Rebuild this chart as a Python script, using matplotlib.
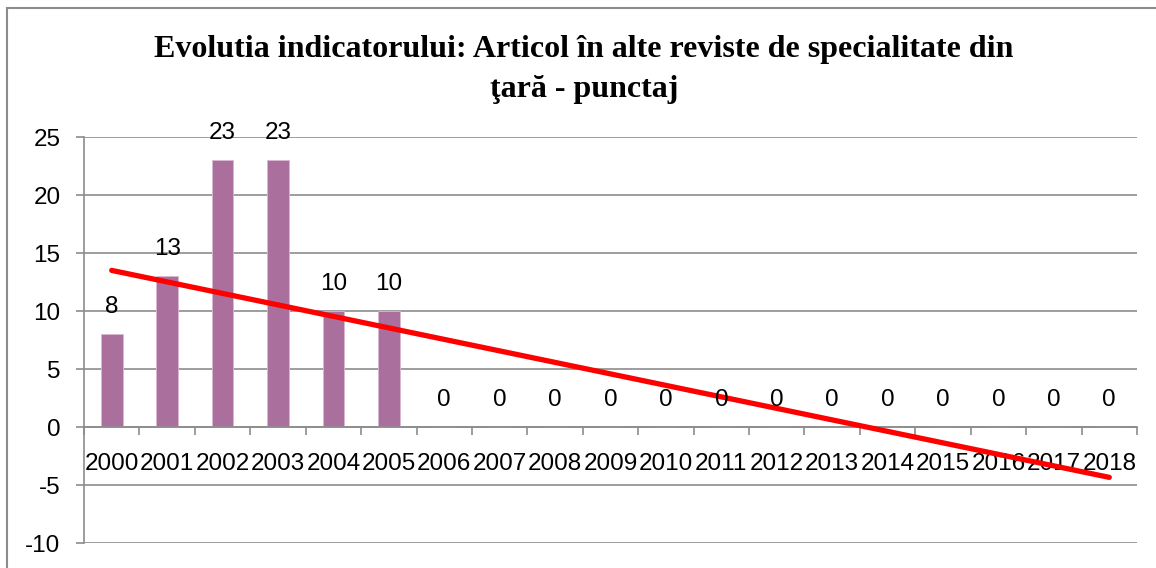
import numpy as np
import matplotlib
matplotlib.use('Agg')
import matplotlib.pyplot as plt
from matplotlib.patches import Rectangle

plt.rcParams['axes.unicode_minus'] = False

years = [str(y) for y in range(2000, 2019)]
values = [8, 13, 23, 23, 10, 10, 0, 0, 0, 0, 0, 0, 0, 0, 0, 0, 0, 0, 0]
title_line1 = "Evolutia indicatorului: Articol în alte reviste de specialitate din"
title_line2 = "ţară - punctaj"

bar_color = '#AB6F9E'
grid_color = '#8C8C8C'
label_font = 'Liberation Sans'

fig = plt.figure(figsize=(11.56, 5.68), dpi=100)
ax = fig.add_axes([84 / 1156, 25 / 568, (1137 - 84) / 1156, 406 / 568])

x = np.arange(len(years))
ax.bar(x, values, width=0.39, color=bar_color, edgecolor='#D9B8D2', linewidth=0.6, zorder=2)

# linear trend line (Excel-style)
slope, intercept = np.polyfit(x, values, 1)
ax.plot([x[0], x[-1]], [intercept + slope * x[0], intercept + slope * x[-1]],
        color='#FF0000', linewidth=3.8, solid_capstyle='round', zorder=4)

for xi, v in zip(x, values):
    ax.annotate(str(v), (xi, v), xytext=(0, 19.5), textcoords='offset points',
                ha='center', va='center', fontsize=17.5, family=label_font, zorder=5)

ax.set_xlim(-0.5, len(years) - 0.5)
ax.set_ylim(-10, 25)
ax.set_yticks(range(-10, 26, 5))
ax.yaxis.grid(True, color=grid_color, linewidth=1.2, zorder=0)
ax.set_axisbelow(True)

for s in ['top', 'right']:
    ax.spines[s].set_visible(False)
ax.spines['left'].set_color(grid_color)
ax.spines['left'].set_linewidth(1.2)
ax.spines['bottom'].set_position(('data', 0))
ax.spines['bottom'].set_color(grid_color)
ax.spines['bottom'].set_linewidth(1.2)

ax.set_xticks(np.arange(-0.5, len(years), 1.0))
ax.set_xticklabels([])
ax.set_xticks(x, minor=True)
ax.set_xticklabels(years, minor=True)
ax.tick_params(axis='x', which='major', length=6, width=1.2, color=grid_color, direction='out')
ax.tick_params(axis='x', which='minor', length=0, pad=19, labelsize=17.5)
ax.tick_params(axis='y', length=6, width=1.2, color=grid_color, pad=11, labelsize=17.5)
for lab in ax.get_xticklabels(minor=True) + ax.get_yticklabels():
    lab.set_family(label_font)

fig.text(584 / 1156, 1 - 50 / 568, title_line1, ha='center', va='center',
         fontsize=23, fontweight='bold', family='Liberation Serif')
fig.text(584 / 1156, 1 - 89 / 568, title_line2, ha='center', va='center',
         fontsize=23, fontweight='bold', family='Liberation Serif')

# chart area frame (extends past right and bottom edges)
fig.patches.append(Rectangle((7 / 1156, -0.1), 1.2, 1 - 8 / 568 + 0.1, transform=fig.transFigure,
                             fill=False, edgecolor=grid_color, linewidth=1.5))

fig.savefig('out.png', dpi=100)
